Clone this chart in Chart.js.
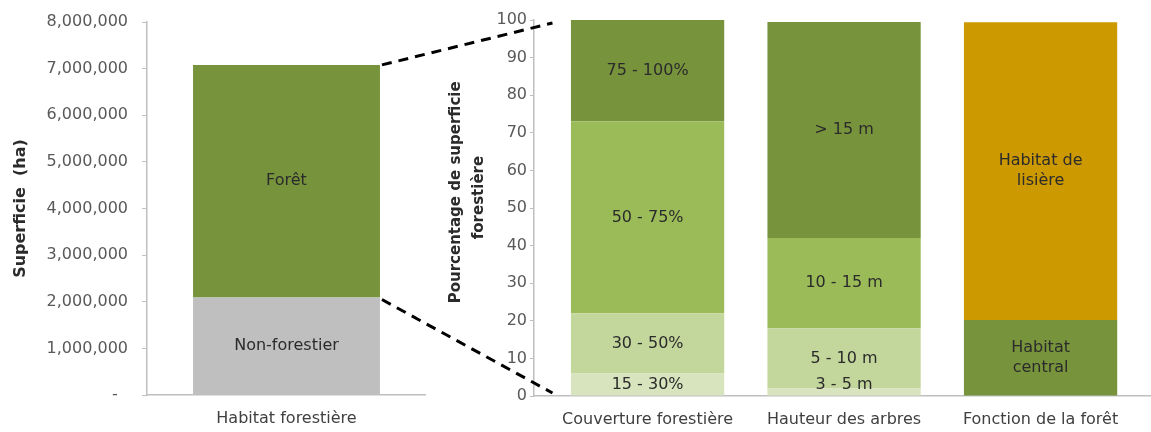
<!DOCTYPE html>
<html>
<head>
<meta charset="utf-8">
<script src="https://cdn.jsdelivr.net/npm/chart.js@4"></script>
<style>
  body { margin: 0; background: #fff; }
  #wrap { position: relative; width: 1151px; height: 432px; }
  #wrap canvas { position: absolute; top: 0; }
</style>
</head>
<body>
<div id="wrap">
  <canvas id="left" width="426" height="432" style="left:0"></canvas>
  <canvas id="right" width="711" height="432" style="left:440px"></canvas>
  <canvas id="links" width="1151" height="432" style="left:0;pointer-events:none"></canvas>
</div>
<script>
// Left panel: total area split into forest / non-forest (ha)
const leftCats = ["Habitat forestière"];
const nonForestHa = [2090000];
const forestHa = [4990000];
const leftTicks = { min: 0, max: 8000000, step: 1000000 };

// Right panel: breakdown of the forest share (%)
const rightCats = ["Couverture forestière", "Hauteur des arbres", "Fonction de la forêt"];
const coverNames = ["15 - 30%", "30 - 50%", "50 - 75%", "75 - 100%"];
const coverValues = [6, 16, 51, 27];
const heightNames = ["3 - 5 m", "5 - 10 m", "10 - 15 m", "> 15 m"];
const heightValues = [2, 16, 24, 57.5];
const functionNames = ["Habitat\ncentral", "Habitat de\nlisière"];
const functionValues = [20.2, 79.2];
const rightTicks = { min: 0, max: 100, step: 10 };

const AXIS = "#bfbfbf";
const TICK = "#595959";
const LABEL = "#2b2b2b";
const GREEN_DARK = "#77933c";
const GREEN_MID = "#9bbb59";
const GREEN_LIGHT = "#c3d69b";
const GREEN_PALE = "#d7e4bd";
const GREY = "#bfbfbf";
const GOLD = "#cc9900";

Chart.defaults.font.family = '"DejaVu Sans", sans-serif';
Chart.defaults.font.size = 16;
Chart.defaults.color = TICK;

// Writes each dataset's name in the middle of its segment.
const segmentLabels = {
  id: "segmentLabels",
  afterDatasetsDraw(chart) {
    const ctx = chart.ctx;
    ctx.save();
    ctx.fillStyle = LABEL;
    ctx.font = '16px "DejaVu Sans", sans-serif';
    ctx.textAlign = "center";
    ctx.textBaseline = "middle";
    chart.data.datasets.forEach((ds, i) => {
      chart.getDatasetMeta(i).data.forEach((bar) => {
        const lines = ds.label.split("\n");
        const lh = 20;
        let cy = (bar.y + bar.base) / 2;
        cy = Math.min(cy, bar.base - 11 - (lines.length - 1) * lh / 2);
        lines.forEach((t, k) => {
          ctx.fillText(t, bar.x, cy + (k - (lines.length - 1) / 2) * lh);
        });
      });
    });
    ctx.restore();
  },
};

function barSet(label, data, color, barPct) {
  return {
    label, data, backgroundColor: color, borderWidth: 0,
    barPercentage: barPct, categoryPercentage: 1,
  };
}

function yAxis(t, title, font, width, tickLen, pad, fmt) {
  return {
    stacked: true, min: t.min, max: t.max,
    ticks: { stepSize: t.step, padding: pad, color: TICK, callback: fmt, font: { lineHeight: 1 } },
    grid: { drawOnChartArea: false, tickLength: tickLen, color: AXIS },
    border: { color: AXIS, width: 1.5 },
    title: { display: true, text: title, color: LABEL, font, padding: { top: 3, bottom: 0 } },
    afterFit: (s) => { s.width = width; },
  };
}

const leftChart = new Chart(document.getElementById("left"), {
  type: "bar",
  data: {
    labels: leftCats,
    datasets: [
      barSet("Non-forestier", nonForestHa, GREY, 0.67),
      barSet("Forêt", forestHa, GREEN_DARK, 0.67),
    ],
  },
  options: {
    responsive: false, animation: false,
    layout: { padding: { top: 20, left: 8, right: 0, bottom: 0 } },
    scales: {
      x: {
        stacked: true,
        grid: { display: false },
        border: { color: AXIS, width: 1.5 },
        ticks: { color: "#404040", padding: 6 },
        afterFit: (s) => { s.height = 37; },
      },
      y: yAxis(leftTicks, "Superficie  (ha)", { size: 16, weight: "bold" }, 139, 5, 14,
        (v) => (v === 0 ? "-  " : v.toLocaleString("en-US"))),
    },
    plugins: { legend: { display: false }, tooltip: { enabled: false } },
  },
  plugins: [segmentLabels],
});

// one stacked segment per entry, placed on its category index
function segs(idx, names, values, colors) {
  return names.map((n, k) => barSet(n, [{ x: idx, y: values[k] }], colors[k], 0.78));
}

const rightChart = new Chart(document.getElementById("right"), {
  type: "bar",
  data: {
    datasets: [
      ...segs(0, coverNames, coverValues, [GREEN_PALE, GREEN_LIGHT, GREEN_MID, GREEN_DARK]),
      ...segs(1, heightNames, heightValues, [GREEN_PALE, GREEN_LIGHT, GREEN_MID, GREEN_DARK]),
      ...segs(2, functionNames, functionValues, [GREEN_DARK, GOLD]),
    ],
  },
  options: {
    responsive: false, animation: false,
    layout: { padding: { top: 20, left: 2, right: 0, bottom: 0 } },
    scales: {
      x: {
        type: "linear", stacked: true, offset: false, min: -0.578, max: 2.562,
        afterBuildTicks: (s) => { s.ticks = rightCats.map((c, i) => ({ value: i })); },
        ticks: { color: "#404040", padding: 6, maxRotation: 0, autoSkip: false,
          callback: (v) => rightCats[v] },
        grid: { display: false },
        border: { color: AXIS, width: 1.5 },
        afterFit: (s) => { s.height = 36; },
      },
      y: yAxis(rightTicks, ["      Pourcentage de superficie", "    forestière"],
        { size: 15, weight: "bold", lineHeight: 1.5 }, 92, 4, 3),
    },
    plugins: { legend: { display: false }, tooltip: { enabled: false } },
  },
  plugins: [segmentLabels],
});

// Dashed "zoom" lines from the left bar to the right-hand axis.
(function drawLinks() {
  const ctx = document.getElementById("links").getContext("2d");
  const rightOffset = 440;
  const forestBar = leftChart.getDatasetMeta(1).data[0];
  const x0 = forestBar.x + forestBar.width / 2 + 2;
  const firstBar = rightChart.getDatasetMeta(0).data[0];
  const x1 = rightOffset + (rightChart.chartArea.left + firstBar.x - firstBar.width / 2) / 2;
  const ly = leftChart.scales.y;
  const ry = rightChart.scales.y;
  ctx.strokeStyle = "#000";
  ctx.lineWidth = 3;
  ctx.setLineDash([10, 7]);
  ctx.beginPath();
  ctx.moveTo(x0, ly.getPixelForValue(nonForestHa[0] + forestHa[0]));
  ctx.lineTo(x1, ry.getPixelForValue(rightTicks.max) + 3);
  ctx.moveTo(x0, ly.getPixelForValue(nonForestHa[0]) + 2);
  ctx.lineTo(x1, ry.getPixelForValue(rightTicks.min) - 3);
  ctx.stroke();
})();
</script>
</body>
</html>
